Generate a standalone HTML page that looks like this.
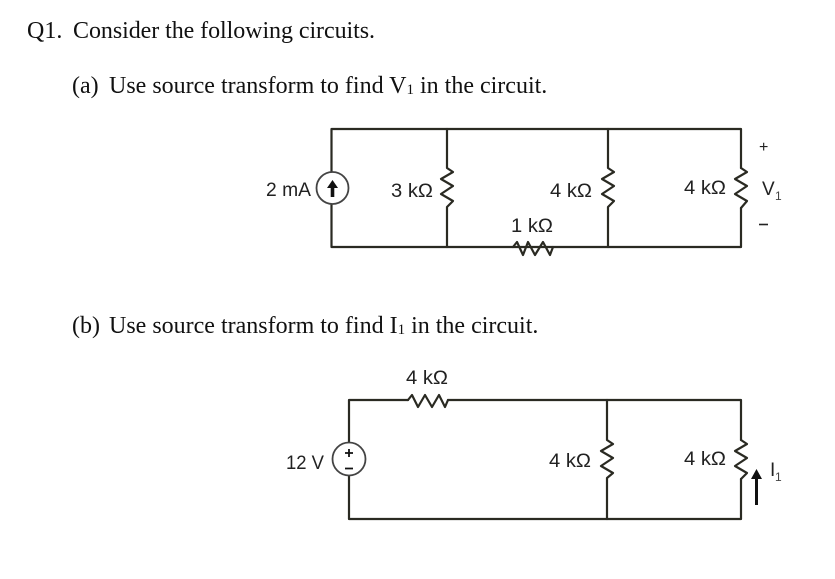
<!DOCTYPE html>
<html><head><meta charset="utf-8"><style>
html,body{margin:0;padding:0;background:#fff}
svg{display:block}
.t{font-family:"Liberation Serif",serif;font-size:24px;fill:#111}
.l{font-family:"Liberation Sans",sans-serif;font-size:19px;fill:#222}
.s{font-family:"Liberation Sans",sans-serif;font-size:12px;fill:#444}
.w{fill:none;stroke:#2a2a22;stroke-width:2.2;stroke-linejoin:round;stroke-linecap:round}
</style></head><body>
<svg width="835" height="579" viewBox="0 0 835 579" xmlns="http://www.w3.org/2000/svg">
<text class="t" x="27" y="38">Q1.</text>
<text class="t" x="73" y="38" textLength="302">Consider the following circuits.</text>
<text class="t" x="72" y="93">(a)</text>
<text class="t" x="109" y="93">Use source transform to find V<tspan font-size="15" dy="1">1</tspan><tspan dy="-1"> in the circuit.</tspan></text>
<text class="t" x="72" y="333">(b)</text>
<text class="t" x="109" y="333">Use source transform to find I<tspan font-size="15" dy="1">1</tspan><tspan dy="-1"> in the circuit.</tspan></text>

<!-- Circuit a -->
<path class="w" d="M331.500 172V129H741V168M741 208V247H331.500V204"/>
<path class="w" d="M447 129V168L453 172L441 179L453 186L441 194L453 201L447 207V247"/>
<path class="w" d="M608 129V168L614 172L602 179L614 186L602 194L614 201L608 207V247"/>
<path class="w" d="M741 168L747 172L735 179L747 186L735 194L747 201L741 208"/>
<path class="w" d="M513 247L517 242L523 255L528 242L535 255L543 242L550 255L553 247" stroke-width="2"/>
<circle cx="332.500" cy="188" r="16" fill="#fff" stroke="#444" stroke-width="1.800"/>
<path d="M332.500 180L338 188H334.300V197H330.700V188H327Z" fill="#111"/>
<text class="l" x="266" y="196" textLength="45" lengthAdjust="spacingAndGlyphs">2 mA</text>
<text class="l" x="391" y="197" textLength="42" lengthAdjust="spacingAndGlyphs">3 kΩ</text>
<text class="l" x="550" y="197" textLength="42" lengthAdjust="spacingAndGlyphs">4 kΩ</text>
<text class="l" x="684" y="194" textLength="42" lengthAdjust="spacingAndGlyphs">4 kΩ</text>
<text class="l" x="511" y="232" textLength="42" lengthAdjust="spacingAndGlyphs">1 kΩ</text>
<text class="l" x="759" y="152" style="font-size:16px">+</text>
<text class="l" x="762" y="195">V</text>
<text class="s" x="775" y="200">1</text>
<path d="M759 224.500H768" stroke="#222" stroke-width="1.600"/>

<!-- Circuit b -->
<path class="w" d="M349 442V400H408M448 400H741V440M741 479V519H349V476"/>
<path class="w" d="M408 400L412 395L418 407L425 395L432 407L439 395L445 407L448 400" stroke-width="2"/>
<path class="w" d="M607 400V440L613 444L601 451L613 458L601 466L613 473L607 478V519"/>
<path class="w" d="M741 440L747 444L735 451L747 458L735 466L747 473L741 479"/>
<circle cx="349" cy="459" r="16.500" fill="#fff" stroke="#444" stroke-width="1.800"/>
<path d="M349 449V457M345 453H353M345 468.500H353" stroke="#111" stroke-width="1.800" fill="none"/>
<path d="M756.500 469L762 479H758V505H755V479H751Z" fill="#111"/>
<text class="l" x="286" y="469" textLength="38" lengthAdjust="spacingAndGlyphs">12 V</text>
<text class="l" x="406" y="384" textLength="42" lengthAdjust="spacingAndGlyphs">4 kΩ</text>
<text class="l" x="549" y="467" textLength="42" lengthAdjust="spacingAndGlyphs">4 kΩ</text>
<text class="l" x="684" y="465" textLength="42" lengthAdjust="spacingAndGlyphs">4 kΩ</text>
<text class="l" x="770" y="476">I</text>
<text class="s" x="775" y="481">1</text>
</svg>
</body></html>
